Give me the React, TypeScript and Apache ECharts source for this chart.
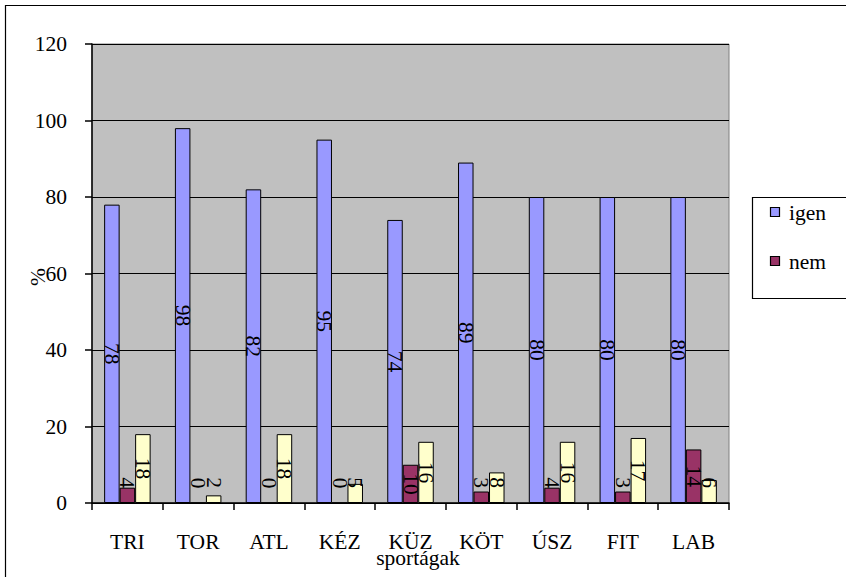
import React, { useEffect, useRef } from "react";
import * as echarts from "echarts";

const categories = ["TRI", "TOR", "ATL", "KÉZ", "KÜZ", "KÖT", "ÚSZ", "FIT", "LAB"];
const igen = [78, 98, 82, 95, 74, 89, 80, 80, 80];
const nem = [4, 0, 0, 0, 10, 3, 4, 3, 14];
const nemTudom = [18, 2, 18, 5, 16, 8, 16, 17, 6];
const seriesNames = ["igen", "nem", "nem tudom"];
const seriesColors = ["#9999FF", "#993366", "#FFFFCC"];
const legendCount = 2;
const yTicks = { min: 0, max: 120, interval: 20 };
const xName = "sportágak";
const yName = "%";

const FONT = "Liberation Serif";
const FS = 21.5;

const centerLabel = {
  show: true,
  position: "inside",
  rotate: -90,
  color: "#000",
  fontFamily: FONT,
  fontSize: FS,
};

const bottomLabel = {
  show: true,
  position: "insideBottom",
  distance: 15,
  rotate: -90,
  align: "right",
  verticalAlign: "middle",
  color: "#000",
  fontFamily: FONT,
  fontSize: FS,
};

function smallAware(values: number[]) {
  return values.map((v) => ({
    value: v,
    label: v >= 10 ? centerLabel : bottomLabel,
  }));
}

export default function App() {
  const ref = useRef<HTMLDivElement>(null);
  useEffect(() => {
    if (!ref.current) return;
    const chart = echarts.init(ref.current, null, { renderer: "svg" });
    const barBase = {
      type: "bar" as const,
      barWidth: 15.5,
      barGap: "0%",
    };
    const textStyle = (text: string, align: string) => ({
      text,
      fontFamily: FONT,
      fontSize: FS,
      fill: "#000",
      align,
      verticalAlign: "middle",
    });
    const legendGraphics: any[] = [];
    for (let i = 0; i < legendCount; i++) {
      const cy = 212 + i * 49;
      legendGraphics.push({
        type: "rect",
        shape: { x: 770.5, y: cy - 4.5, width: 9, height: 9 },
        style: { fill: seriesColors[i], stroke: "#000", lineWidth: 1.2 },
        silent: true,
        z: 5,
      });
      legendGraphics.push({
        type: "text",
        x: 789,
        y: cy + 1,
        style: textStyle(seriesNames[i], "left"),
        silent: true,
        z: 5,
      });
    }
    chart.setOption({
      animation: false,
      backgroundColor: "#fff",
      textStyle: { fontFamily: FONT, fontSize: FS, color: "#000" },
      grid: {
        left: 92,
        top: 44,
        right: 117,
        bottom: 74,
        outerBoundsMode: "none",
        containLabel: false,
        show: true,
        backgroundColor: "#C0C0C0",
        borderColor: "#808080",
        borderWidth: 1,
      },
      legend: { show: false },
      xAxis: {
        type: "category",
        data: categories,
        axisLine: { lineStyle: { color: "#000", width: 1.5 } },
        axisTick: { show: true, length: 7, lineStyle: { color: "#000", width: 1.5 } },
        axisLabel: { margin: 28, fontFamily: FONT, fontSize: FS, color: "#000" },
        splitLine: { show: false },
      },
      yAxis: {
        type: "value",
        min: yTicks.min,
        max: yTicks.max,
        interval: yTicks.interval,
        axisLine: { show: true, lineStyle: { color: "#000", width: 1.5 } },
        axisTick: { show: true, length: 7, lineStyle: { color: "#000", width: 1.5 } },
        axisLabel: { margin: 25, fontFamily: FONT, fontSize: FS, color: "#000" },
        splitLine: { show: true, lineStyle: { color: "#000", width: 1 } },
      },
      graphic: [
        {
          type: "rect",
          shape: { x: 5.5, y: 5.5, width: 860, height: 600 },
          style: { fill: "none", stroke: "#000", lineWidth: 1.2 },
          silent: true,
          z: -10,
        },
        {
          type: "rect",
          shape: { x: 752.5, y: 197.5, width: 120, height: 101 },
          style: { fill: "#fff", stroke: "#000", lineWidth: 1.2 },
          silent: true,
          z: 0,
        },
        ...legendGraphics,
        {
          type: "text",
          x: 418,
          y: 558,
          style: textStyle(xName, "center"),
          silent: true,
          z: 5,
        },
        {
          type: "text",
          x: 38,
          y: 277,
          rotation: Math.PI / 2,
          style: textStyle(yName, "center"),
          silent: true,
          z: 5,
        },
      ],
      series: [
        {
          ...barBase,
          name: seriesNames[0],
          data: igen,
          itemStyle: { color: seriesColors[0], borderColor: "#000", borderWidth: 1 },
          label: centerLabel,
        },
        {
          ...barBase,
          name: seriesNames[1],
          data: smallAware(nem),
          itemStyle: { color: seriesColors[1], borderColor: "#000", borderWidth: 1 },
        },
        {
          ...barBase,
          name: seriesNames[2],
          data: smallAware(nemTudom),
          itemStyle: { color: seriesColors[2], borderColor: "#000", borderWidth: 1 },
        },
      ],
    });
    return () => chart.dispose();
  }, []);
  return (
    <div
      ref={ref}
      style={{ position: "fixed", left: 0, top: 0, width: 846, height: 577 }}
    />
  );
}
